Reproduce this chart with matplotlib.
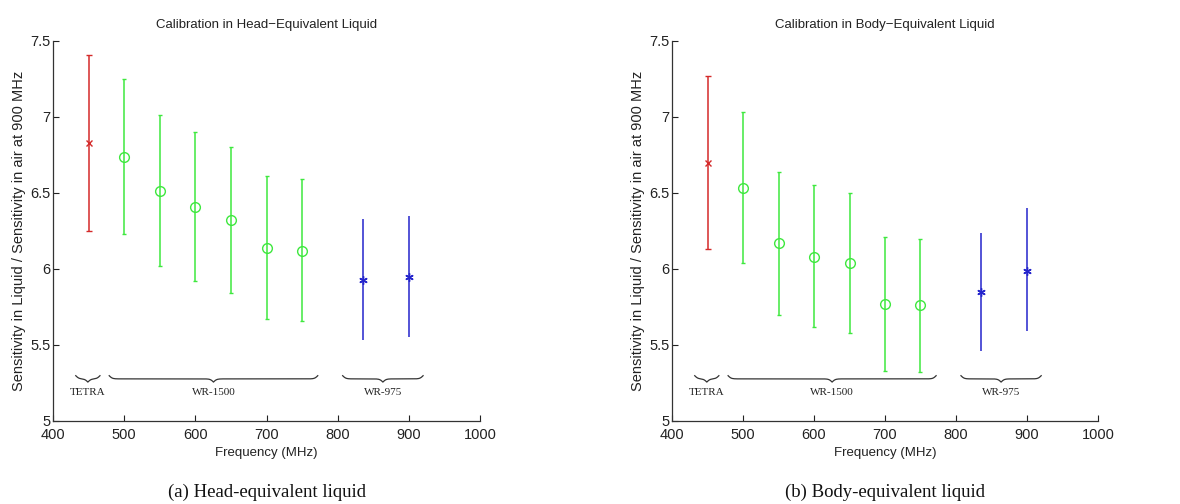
import numpy as np
import matplotlib
matplotlib.use("Agg")
import matplotlib.pyplot as plt

# frequencies (MHz) per probe group
freq_tetra = [450]
freq_wr1500 = [500, 550, 600, 650, 700, 750]
freq_wr975 = [835, 900]

# head-equivalent liquid: mean, lower, upper
head_tetra = [6.83]
head_tetra_lo = [6.25]
head_tetra_hi = [7.41]
head_wr1500 = [6.74, 6.51, 6.41, 6.32, 6.14, 6.12]
head_wr1500_lo = [6.23, 6.02, 5.92, 5.84, 5.67, 5.66]
head_wr1500_hi = [7.25, 7.01, 6.90, 6.80, 6.61, 6.59]
head_wr975 = [5.93, 5.95]
head_wr975_lo = [5.53, 5.55]
head_wr975_hi = [6.33, 6.35]

# body-equivalent liquid
body_tetra = [6.70]
body_tetra_lo = [6.13]
body_tetra_hi = [7.27]
body_wr1500 = [6.53, 6.17, 6.08, 6.04, 5.77, 5.76]
body_wr1500_lo = [6.04, 5.70, 5.62, 5.58, 5.33, 5.32]
body_wr1500_hi = [7.03, 6.64, 6.55, 6.50, 6.21, 6.20]
body_wr975 = [5.85, 5.99]
body_wr975_lo = [5.46, 5.59]
body_wr975_hi = [6.24, 6.40]

group_names = ["TETRA", "WR-1500", "WR-975"]
group_spans = [(432, 466), (479, 772), (807, 920)]

x_ticks = [400, 500, 600, 700, 800, 900, 1000]
y_ticks = [5, 5.5, 6, 6.5, 7, 7.5]

RED = "#d42a2a"
GREEN = "#3ee83e"
BLUE = "#2424cc"

plt.rcParams["font.family"] = "Liberation Sans"


def brace(ax, x0, x1, ytop, h):
    # underbrace: ends up, tip pointing down
    n = 201
    beta = 0.45
    x = np.linspace(x0, x1, n)
    xh = x[:n // 2 + 1]
    yh = 1 / (1 + np.exp(-beta * (xh - xh[0]))) + 1 / (1 + np.exp(-beta * (xh - xh[-1])))
    yc = np.concatenate((yh, yh[-2::-1]))
    y = ytop - (yc - 0.5) * h
    ax.plot(x, y, color="#333333", lw=0.9, clip_on=False)


def panel(ax, data, title, caption):
    series = [
        (freq_tetra, data[0], RED, "x", 5, 2.5),
        (freq_wr1500, data[1], GREEN, "o", 7, 1.5),
        (freq_wr975, data[2], BLUE, (6, 2, 0), 6, 0),
    ]
    for xs, (m, lo, hi), c, mk, ms, cs in series:
        m = np.array(m)
        err = [m - np.array(lo), np.array(hi) - m]
        ax.errorbar(xs, m, yerr=err, fmt="none", ecolor=c, elinewidth=1.1,
                    capsize=cs, capthick=1.0)
        ax.plot(xs, m, linestyle="none", marker=mk, markersize=ms,
                markerfacecolor="none", markeredgecolor=c, markeredgewidth=1.0)

    for name, (x0, x1) in zip(group_names, group_spans):
        brace(ax, x0, x1, 5.298, 0.042)
        ax.text((x0 + x1) / 2, 5.19, name, ha="center", va="center",
                fontsize=8, family="Liberation Serif", color="#222222")

    ax.set_xlim(400, 1000)
    ax.set_ylim(5, 7.5)
    ax.set_xticks(x_ticks)
    ax.set_yticks(y_ticks)
    ax.set_yticklabels([f"{v:g}" for v in y_ticks])
    ax.tick_params(direction="in", length=4, width=0.8, labelsize=10.5, colors="#222222")
    ax.tick_params(axis="x", pad=5)
    ax.tick_params(axis="y", pad=2)
    for s in ["top", "right"]:
        ax.spines[s].set_visible(False)
    for s in ["left", "bottom"]:
        ax.spines[s].set_color("#333333")
        ax.spines[s].set_linewidth(0.9)
    ax.set_title(title, fontsize=9.5, pad=9, color="#222222")
    ax.set_xlabel("Frequency (MHz)", fontsize=9.5, labelpad=4, color="#222222")
    ax.set_ylabel("Sensitivity in Liquid / Sensitivity in air at 900 MHz",
                  fontsize=10.5, labelpad=3, color="#222222")
    ax.text(0.5, -0.187, caption, transform=ax.transAxes, ha="center", va="center",
            fontsize=13.5, family="Liberation Serif", color="#111111")


fig = plt.figure(figsize=(11.8, 5.04), dpi=100)
ax1 = fig.add_axes([0.0449, 0.1647, 0.3619, 0.754])
ax2 = fig.add_axes([0.5695, 0.1647, 0.3610, 0.754])

panel(ax1,
      [(head_tetra, head_tetra_lo, head_tetra_hi),
       (head_wr1500, head_wr1500_lo, head_wr1500_hi),
       (head_wr975, head_wr975_lo, head_wr975_hi)],
      "Calibration in Head\u2212Equivalent Liquid", "(a) Head-equivalent liquid")
panel(ax2,
      [(body_tetra, body_tetra_lo, body_tetra_hi),
       (body_wr1500, body_wr1500_lo, body_wr1500_hi),
       (body_wr975, body_wr975_lo, body_wr975_hi)],
      "Calibration in Body\u2212Equivalent Liquid", "(b) Body-equivalent liquid")

fig.savefig("out.png", dpi=100)
